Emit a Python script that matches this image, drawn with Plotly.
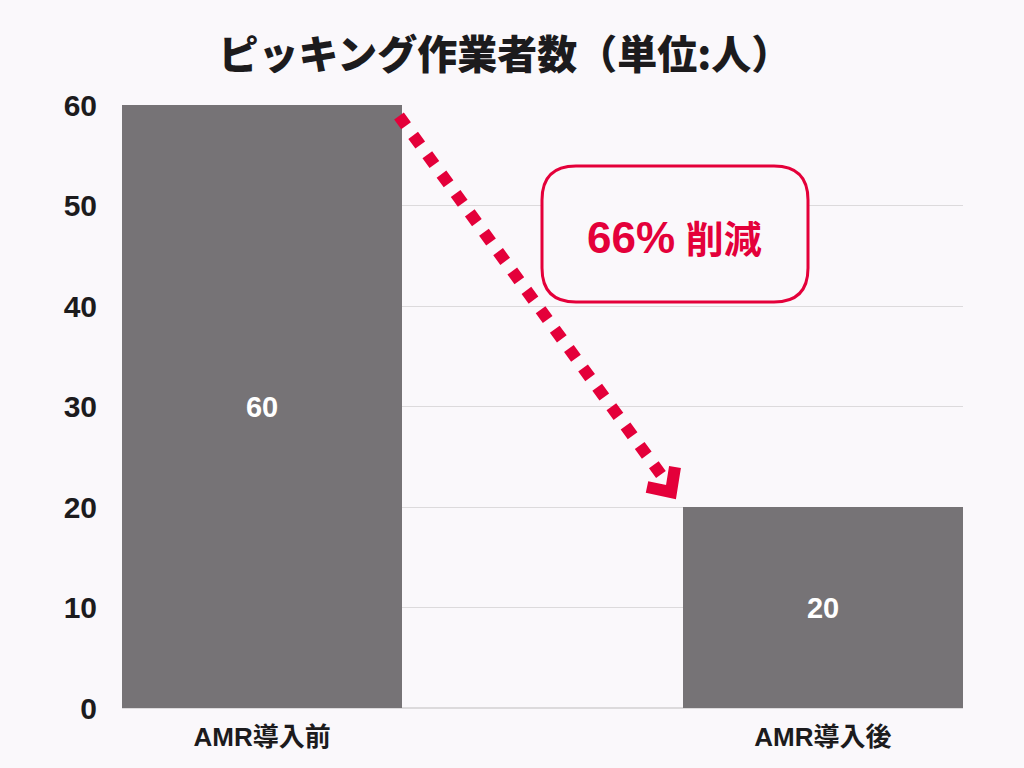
import plotly.graph_objects as go

categories = ["AMR導入前", "AMR導入後"]
values = [60, 20]
y_ticks = [0, 10, 20, 30, 40, 50, 60]
title_text = "ピッキング作業者数（単位:人）"
callout_pct = "66%"
callout_word = "削減"

BG = "#FAF8FB"
BAR = "#767376"
RED = "#E4003A"
DARK = "#1C1B1D"
FONT = "Liberation Sans, Arial, Noto Sans CJK JP, sans-serif"
CJK = "Noto Sans CJK JP, sans-serif"

# plot area in pixels
L, R, T, B = 122, 963, 105, 708
W, H = 1024, 768


def px(x, y):
    return (x - L) / (R - L), (B - y) / (B - T)


fig = go.Figure()
fig.add_trace(go.Bar(
    x=[0, 1], y=values, width=0.5,
    marker=dict(color=BAR, line=dict(width=0)),
    text=[str(v) for v in values], textposition="inside",
    insidetextanchor="middle",
    textfont=dict(color="white", size=29, family=FONT, weight="bold"),
    hoverinfo="skip", showlegend=False,
))

# dotted arrow shaft (paper coords)
x0, y0 = px(399, 116)
x1, y1 = px(662, 476)
fig.add_shape(type="line", xref="paper", yref="paper", x0=x0, y0=y0, x1=x1, y1=y1,
              line=dict(color=RED, width=12, dash="dot"), layer="above")

# chevron head
pts = [px(647, 487), px(671, 492), px(675, 467)]
path = "M {:.5f},{:.5f} L {:.5f},{:.5f} L {:.5f},{:.5f}".format(*pts[0], *pts[1], *pts[2])
fig.add_shape(type="path", xref="paper", yref="paper", path=path,
              line=dict(color=RED, width=12), layer="above")

# rounded callout box
bl, br, bt, bb, r = 542, 808, 166, 302, 34
def P(x, y):
    a, b = px(x, y)
    return f"{a:.5f},{b:.5f}"
box = (f"M {P(bl + r, bt)} L {P(br - r, bt)} Q {P(br, bt)} {P(br, bt + r)} "
       f"L {P(br, bb - r)} Q {P(br, bb)} {P(br - r, bb)} "
       f"L {P(bl + r, bb)} Q {P(bl, bb)} {P(bl, bb - r)} "
       f"L {P(bl, bt + r)} Q {P(bl, bt)} {P(bl + r, bt)} Z")
fig.add_shape(type="path", xref="paper", yref="paper", path=box,
              line=dict(color=RED, width=3), fillcolor=BG, layer="above")
cx, cy = px((bl + br) / 2 - 1, (bt + bb) / 2 + 3)
fig.add_annotation(xref="paper", yref="paper", x=cx, y=cy, xanchor="center", yanchor="middle",
                   text=f"<span style='font-size:44px'>{callout_pct}</span> {callout_word}",
                   showarrow=False,
                   font=dict(color=RED, size=38, family=FONT, weight="bold"))

fig.update_layout(
    width=W, height=H,
    paper_bgcolor=BG, plot_bgcolor=BG,
    margin=dict(l=L, r=W - R, t=T, b=H - B),
    title=dict(text=title_text, x=0.493, xanchor="center", y=1 - 55 / H, yanchor="middle",
               font=dict(size=40, color=DARK, family=CJK, weight=900)),
    bargap=0,
    xaxis=dict(range=[-0.25, 1.25], tickmode="array", tickvals=[0, 1], ticktext=categories,
               showgrid=False, zeroline=False, showline=False,
               tickfont=dict(size=26, color=DARK, family=FONT, weight="bold"),
               ticks="outside", ticklen=6, tickcolor=BG),
    yaxis=dict(range=[0, 60], tickvals=y_ticks, showgrid=True, gridcolor="#DCDADC", gridwidth=1,
               zeroline=True, zerolinecolor="#DCDADC", showline=False,
               tickfont=dict(size=30, color=DARK, family=FONT, weight="bold"),
               ticks="outside", ticklen=18, tickcolor=BG),
)

fig.write_html("out.html", config={"displayModeBar": False},
               post_script="document.body.style.margin='0';document.body.style.background='#FAF8FB';")
